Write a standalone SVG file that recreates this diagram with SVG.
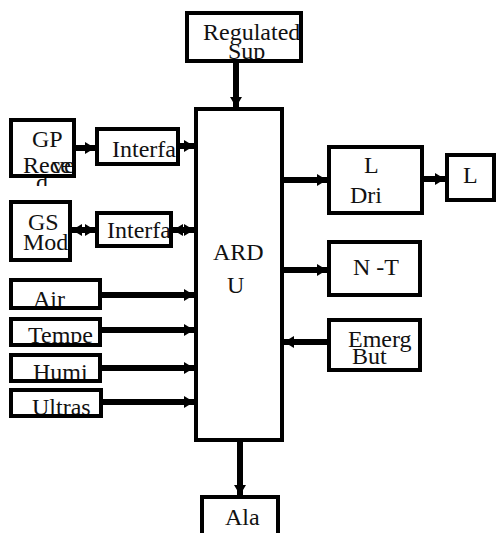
<svg xmlns="http://www.w3.org/2000/svg" width="498" height="533" viewBox="0 0 498 533">
<style>
.box{fill:#fff;stroke:none}
.bd{fill:none;stroke:#000;stroke-width:4}
.c{stroke:#000;stroke-width:6;fill:none}
</style>
<defs>
<marker id="ah" viewBox="0 0 10 12" refX="10" refY="6" markerWidth="10" markerHeight="12" markerUnits="userSpaceOnUse" orient="auto-start-reverse"><path d="M0,0 L10,6 L0,12 z" fill="#000"/></marker>
<clipPath id="cReg"><rect x="185" y="11" width="118" height="52"/></clipPath>
<clipPath id="cGP"><rect x="9" y="118" width="67" height="60"/></clipPath>
<clipPath id="cD"><rect x="0" y="178" width="100" height="8"/></clipPath>
<clipPath id="cI1"><rect x="95" y="127" width="85" height="39"/></clipPath>
<clipPath id="cGS"><rect x="9" y="200" width="63" height="62"/></clipPath>
<clipPath id="cI2"><rect x="95" y="211" width="78" height="37"/></clipPath>
<clipPath id="cAir"><rect x="9" y="278" width="93" height="32"/></clipPath>
<clipPath id="cTem"><rect x="9" y="317" width="93" height="30"/></clipPath>
<clipPath id="cHum"><rect x="9" y="353" width="93" height="30"/></clipPath>
<clipPath id="cUlt"><rect x="9" y="388" width="94" height="30"/></clipPath>
<clipPath id="cEm"><rect x="327" y="318" width="95" height="54"/></clipPath>
</defs>

<g id="connectors">
<line class="c" x1="236" y1="63" x2="236" y2="107" marker-end="url(#ah)"/>
<line class="c" x1="76" y1="148" x2="95" y2="148" marker-end="url(#ah)"/>
<line class="c" x1="180" y1="146" x2="194" y2="146" marker-end="url(#ah)"/>
<line class="c" x1="72" y1="230" x2="95" y2="230" marker-start="url(#ah)" marker-end="url(#ah)"/>
<line class="c" x1="173" y1="230" x2="194" y2="230" marker-start="url(#ah)" marker-end="url(#ah)"/>
<line class="c" x1="102" y1="295" x2="194" y2="295" marker-end="url(#ah)"/>
<line class="c" x1="102" y1="330" x2="194" y2="330" marker-end="url(#ah)"/>
<line class="c" x1="102" y1="368" x2="194" y2="368" marker-end="url(#ah)"/>
<line class="c" x1="103" y1="402" x2="194" y2="402" marker-end="url(#ah)"/>
<line class="c" x1="240" y1="442" x2="240" y2="495" marker-end="url(#ah)"/>
<line class="c" x1="284" y1="180" x2="327" y2="180" marker-end="url(#ah)"/>
<line class="c" x1="424" y1="179" x2="445" y2="179" marker-end="url(#ah)"/>
<line class="c" x1="284" y1="270" x2="327" y2="270" marker-end="url(#ah)"/>
<line class="c" x1="327" y1="342" x2="284" y2="342" marker-end="url(#ah)"/>
</g>

<g font-family="'Liberation Serif', serif" font-size="24" fill="#111">
<g id="regulated">
<rect class="box" x="185" y="11" width="118" height="52"/>
<text clip-path="url(#cReg)" x="203" y="40">Regulated<tspan x="228" y="59">Sup</tspan></text>
<rect class="bd" x="187" y="13" width="114" height="48"/>
</g>

<g id="ardu">
<rect class="box" x="194" y="107" width="90" height="335"/>
<text x="213" y="260">ARD<tspan x="227" y="293">U</tspan></text>
<rect class="bd" x="196" y="109" width="86" height="331"/>
</g>

<g id="gps">
<rect class="box" x="9" y="118" width="67" height="60"/>
<text clip-path="url(#cGP)" x="32" y="147">GP<tspan x="23" y="173">Rece</tspan><tspan dx="-19">ve</tspan></text>
<rect class="bd" x="11" y="120" width="63" height="56"/>
<text x="36" y="190" clip-path="url(#cD)">d</text>
</g>

<g id="interface1">
<rect class="box" x="95" y="127" width="85" height="39"/>
<text x="112" y="157" clip-path="url(#cI1)">Interfa</text>
<rect class="bd" x="97" y="129" width="81" height="35"/>
</g>

<g id="gsm">
<rect class="box" x="9" y="200" width="63" height="62"/>
<text clip-path="url(#cGS)" x="28" y="230">GS<tspan x="23" y="250">Mod</tspan></text>
<rect class="bd" x="11" y="202" width="59" height="58"/>
</g>

<g id="interface2">
<rect class="box" x="95" y="211" width="78" height="37"/>
<text x="107" y="238" clip-path="url(#cI2)">Interfa</text>
<rect class="bd" x="97" y="213" width="74" height="33"/>
</g>

<g id="air">
<rect class="box" x="9" y="278" width="93" height="32"/>
<text x="33" y="307" clip-path="url(#cAir)">Air</text>
<rect class="bd" x="11" y="280" width="89" height="28"/>
</g>

<g id="temp">
<rect class="box" x="9" y="317" width="93" height="30"/>
<text x="28" y="343" clip-path="url(#cTem)">Tempe</text>
<rect class="bd" x="11" y="319" width="89" height="26"/>
</g>

<g id="humi">
<rect class="box" x="9" y="353" width="93" height="30"/>
<text x="33" y="380" clip-path="url(#cHum)">Humi</text>
<rect class="bd" x="11" y="355" width="89" height="26"/>
</g>

<g id="ultras">
<rect class="box" x="9" y="388" width="94" height="30"/>
<text x="32" y="415" clip-path="url(#cUlt)">Ultras</text>
<rect class="bd" x="11" y="390" width="90" height="26"/>
</g>

<g id="alarm">
<rect class="box" x="200" y="495" width="80" height="50"/>
<text x="225" y="525">Ala</text>
<rect class="bd" x="202" y="497" width="76" height="50"/>
</g>

<g id="ldriver">
<rect class="box" x="327" y="145" width="97" height="70"/>
<text x="364" y="173">L<tspan x="350" y="203">Dri</tspan></text>
<rect class="bd" x="329" y="147" width="93" height="66"/>
</g>

<g id="l">
<rect class="box" x="445" y="153" width="51" height="49"/>
<text x="463" y="183">L</text>
<rect class="bd" x="447" y="155" width="47" height="45"/>
</g>

<g id="nt">
<rect class="box" x="327" y="240" width="95" height="57"/>
<text x="353" y="275">N -T</text>
<rect class="bd" x="329" y="242" width="91" height="53"/>
</g>

<g id="emerg">
<rect class="box" x="327" y="318" width="95" height="54"/>
<text clip-path="url(#cEm)" x="348" y="347">Emerg<tspan x="352" y="364">But</tspan></text>
<rect class="bd" x="329" y="320" width="91" height="50"/>
</g>
</g>
</svg>
